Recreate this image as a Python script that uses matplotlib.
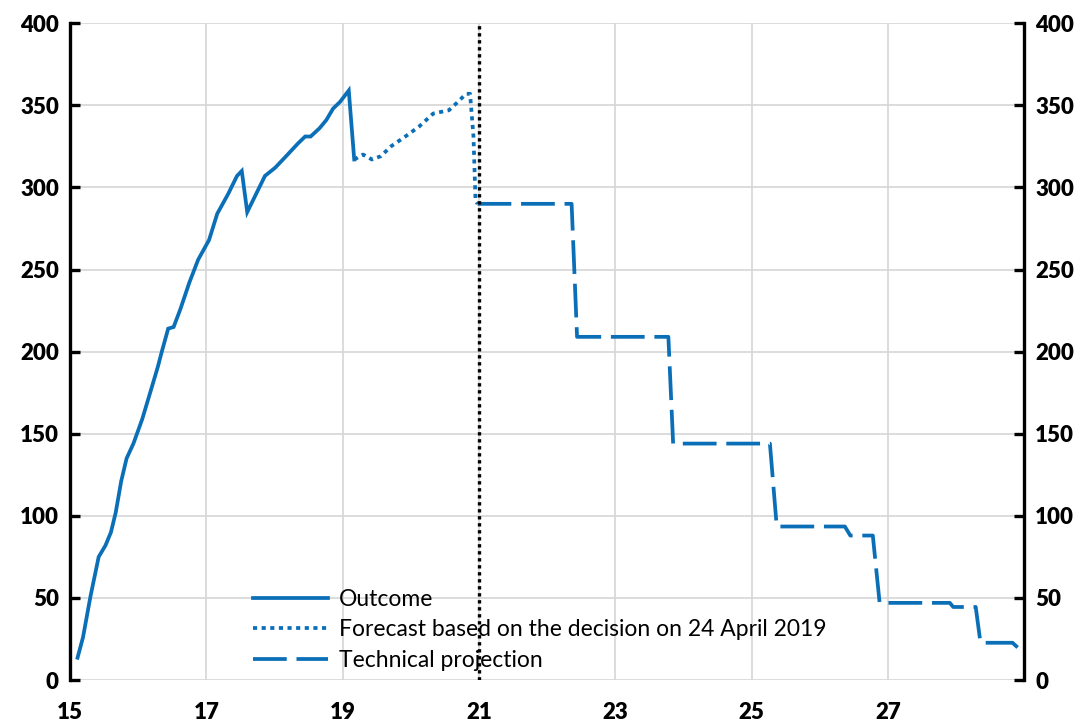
import matplotlib
matplotlib.use("Agg")
import matplotlib.pyplot as plt

# Outcome (solid)
outcome_x = [15.11, 15.19, 15.30, 15.42, 15.52, 15.60, 15.67, 15.75, 15.83, 15.93, 16.06, 16.19, 16.29,
             16.34, 16.44, 16.52, 16.62, 16.75, 16.88, 17.04, 17.16, 17.32, 17.45, 17.52, 17.60, 17.73,
             17.86, 18.01, 18.17, 18.35, 18.45, 18.53, 18.66, 18.76, 18.86, 18.96, 19.09, 19.17]
outcome_y = [13.6, 26, 51, 75, 82, 90, 102, 121, 135, 144, 159, 177, 191,
             199, 214, 215, 226, 242, 256, 268, 284, 296, 307, 310, 285, 296,
             307, 312, 319, 327, 331, 331, 336, 341, 348, 352, 359, 317]

# Forecast based on decision (dotted)
forecast_x = [19.17, 19.30, 19.43, 19.56, 19.71, 19.92, 20.12, 20.33, 20.56, 20.69, 20.81, 20.87, 20.92, 20.95, 20.98]
forecast_y = [317, 320, 317, 319, 325, 331, 337, 345, 347, 352, 357, 357, 331, 292, 290]

# Technical projection (dashed)
proj_x = [20.98, 22.36, 22.44, 23.78, 23.85, 25.27, 25.37, 26.37, 26.45, 26.78, 26.88, 27.91, 27.96, 28.29, 28.36, 28.83, 28.98]
proj_y = [290, 290, 209, 209, 144, 144, 93.5, 93.5, 88, 88, 47, 47, 44.5, 44.5, 22.7, 22.7, 17]

xticks = [15, 17, 19, 21, 23, 25, 27]
yticks = [0, 50, 100, 150, 200, 250, 300, 350, 400]
labels = ["Outcome", "Forecast based on the decision on 24 April 2019", "Technical projection"]

blue = "#0B6FB8"
plt.rcParams['font.family'] = ['Lato', 'DejaVu Sans']

fig = plt.figure(figsize=(10.86, 7.25), dpi=100)
ax = fig.add_axes([0.0645, 0.062, 0.8785, 0.906])

ax.plot(outcome_x, outcome_y, color=blue, lw=2.7, solid_joinstyle='miter', label=labels[0], zorder=3)
ax.plot(forecast_x, forecast_y, color=blue, lw=2.7, dashes=(1.1, 1.2), label=labels[1], zorder=3)
ax.plot(proj_x, proj_y, color=blue, lw=2.7, dashes=(9, 2.6), label=labels[2], zorder=3)
ax.axvline(21, color='black', lw=2.4, dashes=(1, 1.1), zorder=4)

ax.set_xlim(15, 29)
ax.set_ylim(0, 400)
ax.set_xticks(xticks)
ax.set_yticks(yticks)
ax.grid(True, color='#D6D6D6', lw=1.2, zorder=0)
ax.set_axisbelow(True)

for s in ['top', 'bottom', 'right']:
    ax.spines[s].set_visible(False)
ax.spines['left'].set_linewidth(2.4)
ax.tick_params(axis='y', direction='in', length=7, width=2.4, labelsize=16, pad=8)
ax.tick_params(axis='x', length=0, labelsize=16, pad=16)
for t in ax.get_xticklabels() + ax.get_yticklabels():
    t.set_fontweight('heavy')

ax2 = ax.twinx()
ax2.set_ylim(0, 400)
ax2.set_yticks(yticks)
for s in ['top', 'bottom', 'left']:
    ax2.spines[s].set_visible(False)
ax2.spines['right'].set_linewidth(2.4)
ax2.tick_params(axis='y', direction='in', length=7, width=2.4, labelsize=16, pad=8)
for t in ax2.get_yticklabels():
    t.set_fontweight('heavy')

leg = ax.legend(loc='lower left', bbox_to_anchor=(0.182, 0.0), frameon=False, fontsize=16.5,
                handlelength=3.3, handletextpad=0.45, labelspacing=0.42, borderaxespad=0)

fig.savefig("out.png", dpi=100)
